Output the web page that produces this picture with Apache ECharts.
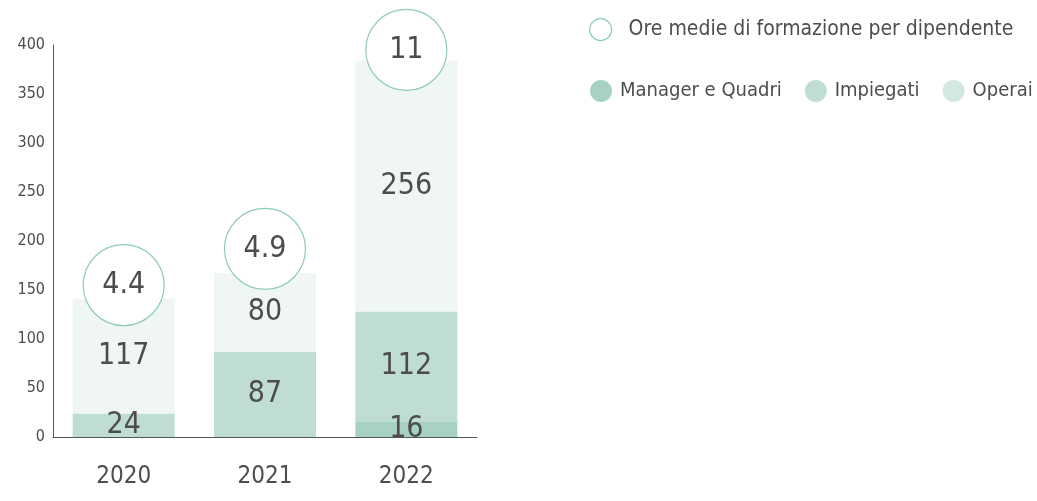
<!DOCTYPE html>
<html lang="it">
<head>
    <meta charset="UTF-8">
    <title>Ore di formazione</title>
</head>
<style>
    html, body { margin: 0; padding: 0; background: #fff; }
    #chart { width: 1037px; height: 501px; }
</style>
<body>
<div id="chart"></div>
</body>
<script src="https://cdn.jsdelivr.net/npm/echarts@6/dist/echarts.min.js"></script>
<script>
    var anni = ['2020', '2021', '2022'];
    var manager = [0, 0, 16];
    var impiegati = [24, 87, 112];
    var operai = [117, 80, 256];
    // ore medie per dipendente: valore mostrato e quota del cerchio sull'asse
    var oreMedie = ['4.4', '4.9', '11'];
    var quotaCerchi = [155, 192, 395];

    var FONT = "'Liberation Sans Narrow', 'DejaVu Sans Condensed', 'Roboto Condensed', sans-serif";
    var txt = '#4d4d4d';

    var chart = echarts.init(document.getElementById('chart'));

    function barLabel() {
        return {
            show: true,
            position: 'inside',
            fontFamily: FONT,
            fontSize: 30,
            color: txt,
            formatter: function (p) {
                return p.value ? p.value : '';
            }
        };
    }

    var option = {
        animation: false,
        textStyle: { fontFamily: FONT },
        grid: {
            left: 53,
            right: 560,
            top: 45,
            bottom: 64
        },
        legend: [
            {
                left: 584,
                top: 13,
                width: 445,
                itemWidth: 22,
                itemHeight: 22,
                itemGap: 10,
                icon: 'circle',
                textStyle: { fontFamily: FONT, fontSize: 21, color: txt, padding: [0, 0, 0, 12] },
                data: [{
                    name: 'Ore medie di formazione per dipendente',
                    itemStyle: { color: '#fff', borderColor: '#8ecbb5', borderWidth: 1.2 }
                }]
            },
            {
                left: 585,
                top: 75,
                width: 450,
                itemWidth: 22,
                itemHeight: 22,
                itemGap: 23,
                icon: 'circle',
                textStyle: { fontFamily: FONT, fontSize: 20, color: txt, padding: [0, 0, 0, 3] },
                data: [
                    { name: 'Manager e Quadri', itemStyle: { color: '#a6d1c3' } },
                    { name: 'Impiegati', itemStyle: { color: '#c0ddd4' } },
                    { name: 'Operai', itemStyle: { color: '#d4e8e2' } }
                ]
            }
        ],
        xAxis: {
            type: 'category',
            data: anni,
            axisLine: { lineStyle: { color: '#555', width: 1 } },
            axisTick: { show: false },
            axisLabel: {
                fontFamily: FONT,
                fontSize: 24,
                color: txt,
                margin: 28
            }
        },
        yAxis: {
            type: 'value',
            min: 0,
            max: 400,
            interval: 50,
            axisLine: { show: true, lineStyle: { color: '#555', width: 1 } },
            axisTick: { show: false },
            splitLine: { show: false },
            axisLabel: {
                fontFamily: FONT,
                fontSize: 16,
                color: txt,
                margin: 8
            }
        },
        series: [
            {
                name: 'Manager e Quadri',
                type: 'bar',
                stack: 'tot',
                barWidth: 102,
                itemStyle: { color: '#a6d1c3' },
                label: barLabel(),
                data: manager
            },
            {
                name: 'Impiegati',
                type: 'bar',
                stack: 'tot',
                barWidth: 102,
                itemStyle: { color: '#c0ddd4' },
                label: barLabel(),
                data: impiegati
            },
            {
                name: 'Operai',
                type: 'bar',
                stack: 'tot',
                barWidth: 102,
                itemStyle: { color: '#eff6f3' },
                label: barLabel(),
                data: operai
            },
            {
                name: 'Ore medie di formazione per dipendente',
                type: 'scatter',
                z: 5,
                symbol: 'circle',
                symbolSize: 81,
                itemStyle: { color: '#fff', borderColor: '#8ecbb5', borderWidth: 1.2, opacity: 1 },
                label: {
                    show: true,
                    position: 'inside',
                    fontFamily: FONT,
                    fontSize: 30,
                    color: txt,
                    formatter: function (p) {
                        return oreMedie[p.dataIndex];
                    }
                },
                data: quotaCerchi
            }
        ]
    };
    chart.setOption(option);
</script>
</html>
